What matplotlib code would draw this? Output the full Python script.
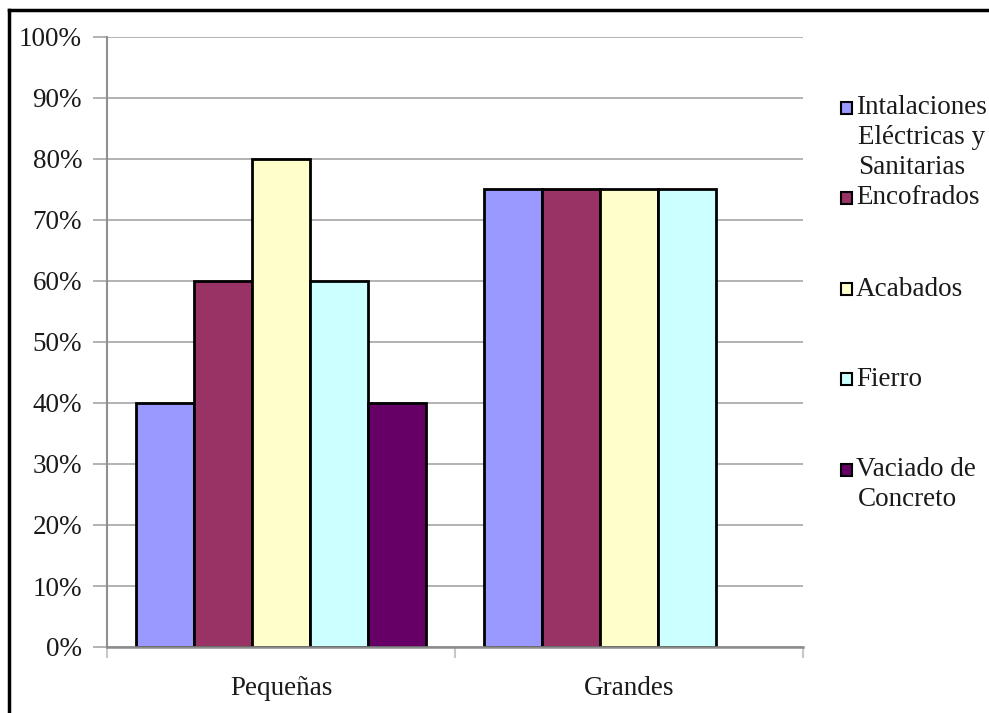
import matplotlib
matplotlib.use("Agg")
import matplotlib.pyplot as plt
from matplotlib.patches import Rectangle
from matplotlib.lines import Line2D
import numpy as np

categories = ["Pequeñas", "Grandes"]
series_names = [
    "Intalaciones\nEléctricas y\nSanitarias",
    "Encofrados",
    "Acabados",
    "Fierro",
    "Vaciado de\nConcreto",
]
series_colors = ["#9999FF", "#993366", "#FFFFCC", "#CCFFFF", "#660066"]
# percentage values per series: [Pequeñas, Grandes]; None = no bar
values = [
    [40, 75],
    [60, 75],
    [80, 75],
    [60, 75],
    [40, None],
]
y_ticks = [0, 10, 20, 30, 40, 50, 60, 70, 80, 90, 100]
y_tick_labels = [f"{v}%" for v in y_ticks]

W, H = 989, 713
fig = plt.figure(figsize=(W / 100, H / 100), dpi=100)
fig.patch.set_facecolor("white")

ax = fig.add_axes([107 / W, (H - 647) / H, (803 - 107) / W, (647 - 37) / H])
ax.set_xlim(0, len(categories))
ax.set_ylim(0, 100)

font = ["Liberation Serif", "DejaVu Serif"]
fs = 19.5
text_c = "#1A1A1A"
grid_c = "#A6A6A6"

n = len(series_names)
bw = 1.0 / 6
for i, (vals, col) in enumerate(zip(values, series_colors)):
    for j, v in enumerate(vals):
        if v is None:
            continue
        x = j + 0.5 + (i - (n - 1) / 2) * bw
        ax.bar(x, v, width=bw, color=col, edgecolor="black", linewidth=2.0,
               zorder=3)

ax.set_yticks(y_ticks)
ax.set_yticklabels(y_tick_labels, fontfamily=font, fontsize=fs, color=text_c)
ax.yaxis.grid(True, color=grid_c, linewidth=1.2, zorder=0)
ax.tick_params(axis="y", direction="out", length=10, width=1.2, color=grid_c, pad=8)

ax.set_xticks(np.arange(len(categories) + 1))
ax.set_xticklabels([])
ax.tick_params(axis="x", direction="out", length=8, width=1.5, color="#C8C8C8")
for j, c in enumerate(categories):
    ax.text(j + 0.5, -6.8, c, ha="center", va="center", fontfamily=font,
            fontsize=fs, color=text_c)

for s in ["top", "right"]:
    ax.spines[s].set_visible(False)
ax.spines["left"].set_color("#909090")
ax.spines["left"].set_linewidth(1.5)
ax.spines["bottom"].set_color("#8C8C8C")
ax.spines["bottom"].set_linewidth(1.8)
ax.spines["bottom"].set_zorder(4)

# legend drawn at fixed rows
legend_rows = [108, 198, 289, 379, 470]
line_h = 30
for name, col, ry in zip(series_names, series_colors, legend_rows):
    fig.add_artist(Rectangle((841 / W, (H - ry - 6) / H), 11 / W, 12 / H,
                             facecolor=col, edgecolor="black", linewidth=1.5,
                             transform=fig.transFigure))
    for k, line in enumerate(name.split("\n")):
        fig.text(856 / W if k == 0 else 858 / W, (H - ry - k * line_h) / H, line,
                 ha="left", va="center", fontfamily=font, fontsize=fs,
                 color=text_c)

# outer frame (top and left edges)
fig.add_artist(Line2D([9 / W, 1], [(H - 10) / H, (H - 10) / H], color="black",
                      linewidth=2.5, transform=fig.transFigure))
fig.add_artist(Line2D([9 / W, 9 / W], [0, (H - 10) / H], color="black",
                      linewidth=2.5, transform=fig.transFigure))

fig.savefig("out.png", dpi=100, facecolor="white")
